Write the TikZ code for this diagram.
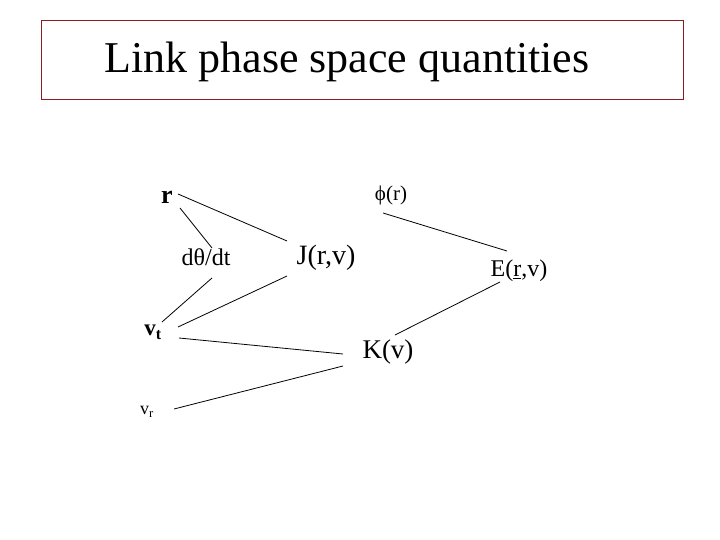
\documentclass[tikz,border=0pt]{standalone}
\usepackage{fontspec}
\setmainfont{Liberation Serif}
\usepackage{tikz}
\usetikzlibrary{positioning}
\definecolor{lpsred}{HTML}{8E1B24}
\tikzset{
  qty/.style={inner sep=0pt,anchor=center,font=\fontsize{24}{26}\selectfont},
  bigqty/.style={qty,font=\fontsize{28}{30}\selectfont},
  link/.style={draw=black,line width=0.8pt},
}

\begin{document}
\begin{tikzpicture}[x=1pt,y=-1pt]
  \useasboundingbox (0,0) rectangle (720,540);
  \node[draw=lpsred,line width=0.9pt,minimum width=642pt,minimum height=79pt,inner sep=0pt] (titlebox) at (362,59.5) {};
  \node[font=\fontsize{44}{50}\selectfont] (title) at (347,62) {Link phase space quantities};
  % quantities
  \node[qty,font=\fontsize{26}{28}\selectfont\bfseries] (r) at (167,197) {r};
  \node[qty,font=\fontsize{21}{23}\selectfont] (phi) at (391,195) {ϕ(r)};
  \node[qty] (dtheta) at (206,257) {dθ/dt};
  \node[bigqty] (jrv) at (326,258) {J(r,v)};
  \node[qty] (erv) at (519,271) {E(\underline{r},v)};
  \node[qty,font=\fontsize{23}{25}\selectfont\bfseries] (vt) at (153,332) {v\textsubscript{t}};
  \node[bigqty,font=\fontsize{27}{29}\selectfont] (kv) at (388,352) {K(v)};
  \node[qty,font=\fontsize{18}{20}\selectfont] (vr) at (147,412) {v\textsubscript{r}};
  % links
  \draw[link] ([shift={(11,-3)}]r.center) -- ([shift={(-39,-17)}]jrv.center);
  \draw[link] ([shift={(13,11)}]r.center) -- ([shift={(6,-9)}]dtheta.center);
  \draw[link] ([shift={(6,21)}]dtheta.center) -- ([shift={(9,-10)}]vt.center);
  \draw[link] ([shift={(-39,18)}]jrv.center) -- ([shift={(25,-5)}]vt.center);
  \draw[link] ([shift={(26,6)}]vt.center) -- ([shift={(-45,2)}]kv.center);
  \draw[link] ([shift={(27,-3)}]vr.center) -- ([shift={(-45,14)}]kv.center);
  \draw[link] ([shift={(-8,18)}]phi.center) -- ([shift={(-12,-20)}]erv.center);
  \draw[link] ([shift={(-19,11)}]erv.center) -- ([shift={(7,-17)}]kv.center);
\end{tikzpicture}
\end{document}
